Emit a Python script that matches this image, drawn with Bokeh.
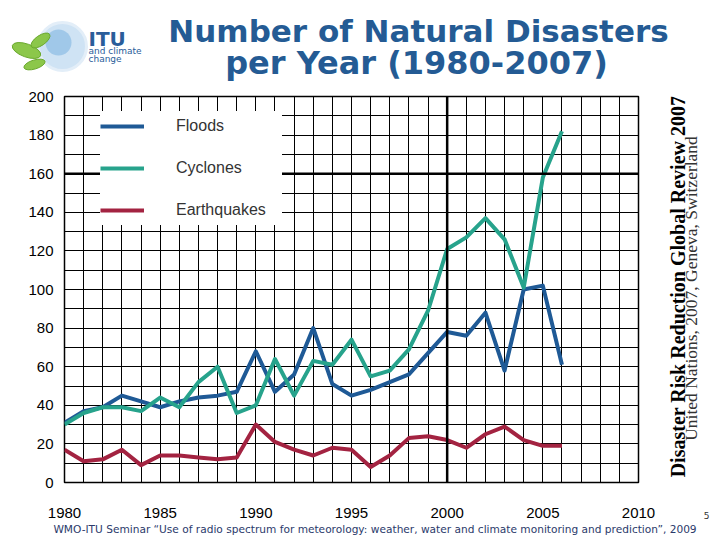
from math import pi
from bokeh.plotting import figure
from bokeh.layouts import column, row
from bokeh.models import (Range1d, SingleIntervalTicker, FixedTicker, Legend, LegendItem, Label,
                          Span, LinearAxis)
from bokeh.embed import file_html
from bokeh.resources import INLINE

years = list(range(1980, 2007))
floods = [31, 37, 39, 45, 42, 39, 42, 44, 45, 47, 68, 47, 56, 80, 51, 45, 48, 52,
          56, 67, 78, 76, 88, 58, 100, 102, 61]
cyclones = [30, 36, 39, 39, 37, 44, 39, 52, 60, 36, 40, 64, 45, 63, 61, 74, 55, 58,
            69, 89, 121, 127, 137, 126, 101, 158, 182]
earthquakes = [17, 11, 12, 17, 9, 14, 14, 13, 12, 13, 30, 21, 17, 14, 18, 17, 8, 14,
               23, 24, 22, 18, 25, 29, 22, 19, 19]
series_names = ["Floods", "Cyclones", "Earthquakes"]
series_colors = ["#1F5A96", "#27A38C", "#A32341"]
x_tick_labels = [1980, 1985, 1990, 1995, 2000, 2005, 2010]
y_tick_labels = list(range(0, 201, 20))

title_lines = ["Number of Natural Disasters", "per Year (1980-2007)"]
logo_lines = ["ITU", "and climate", "change"]
source_title = "Disaster Risk Reduction Global Review 2007"
source_sub = "United Nations, 2007, Geneva, Switzerland"
footer = "WMO-ITU Seminar \u201cUse of radio spectrum for meteorology: weather, water and climate monitoring and prediction\u201d, 2009"
page_no = "5"


def blank(w, h, xr=None, yr=None):
    """A figure without axes, in pixel-like coordinates (y grows downward)."""
    f = figure(width=w, height=h, output_backend="svg", toolbar_location=None, title=None,
               x_range=xr or Range1d(0, w), y_range=yr or Range1d(h, 0),
               x_axis_type=None, y_axis_type=None, min_border=0)
    f.outline_line_color = None
    f.grid.visible = False
    f.background_fill_color = "white"
    f.border_fill_color = "white"
    return f


# ---------- top: logo + title (88 px) ----------
top = blank(720, 88)
top.circle(x=[62], y=[46], radius=24, fill_color="#CFE3F4", line_color="#E3EEF8", line_width=3)
top.circle(x=[58], y=[42], radius=13, fill_color="#8CBCE4", line_color=None, fill_alpha=0.7)
top.ellipse(x=[26, 40, 34], y=[50, 40, 64], width=[30, 22, 22], height=[13, 10, 9],
            angle=[-0.35, 0.6, 0.3], fill_color="#86C440", line_color="#6AA82E", fill_alpha=0.95)
title_color = "#245B94"
top.add_layout(Label(x=418, y=30, text=title_lines[0], text_align="center", text_baseline="middle",
                     text_font="DejaVu Sans", text_font_style="bold", text_font_size="31px",
                     text_color=title_color))
top.add_layout(Label(x=416, y=62, text=title_lines[1], text_align="center", text_baseline="middle",
                     text_font="DejaVu Sans", text_font_style="bold", text_font_size="32px",
                     text_color=title_color))
top.add_layout(Label(x=88, y=38, text=logo_lines[0], text_align="left", text_baseline="middle",
                     text_font="DejaVu Sans", text_font_style="bold", text_font_size="20px",
                     text_color="#2A5D9A"))
top.add_layout(Label(x=88, y=50, text=logo_lines[1], text_align="left", text_baseline="middle",
                     text_font="DejaVu Sans", text_font_size="9px", text_color="#2A5D9A"))
top.add_layout(Label(x=88, y=58, text=logo_lines[2], text_align="left", text_baseline="middle",
                     text_font="DejaVu Sans", text_font_size="9px", text_color="#2A5D9A"))

# ---------- main chart (660 x 434) ----------
p = figure(width=660, height=434, output_backend="svg", toolbar_location=None, title=None,
           x_range=Range1d(1980, 2010), y_range=Range1d(0, 200),
           min_border_left=64, min_border_right=22, min_border_top=8, min_border_bottom=40)
p.background_fill_color = "white"
p.border_fill_color = "white"
p.outline_line_color = "black"
p.outline_line_width = 1.5

p.xaxis.ticker = x_tick_labels
p.yaxis.ticker = y_tick_labels
p.xgrid[0].ticker = SingleIntervalTicker(interval=1)
p.ygrid[0].ticker = SingleIntervalTicker(interval=10)
for g in (p.xgrid[0], p.ygrid[0]):
    g.grid_line_color = "black"
    g.grid_line_alpha = 1.0
    g.grid_line_width = 1

for ax in (p.xaxis[0], p.yaxis[0]):
    ax.axis_line_color = None
    ax.major_tick_line_color = None
    ax.minor_tick_line_color = None
    ax.major_label_text_font = "Liberation Sans"
    ax.major_label_text_font_size = "15px"
    ax.major_label_text_color = "black"
p.xaxis.major_label_standoff = 19
p.yaxis.major_label_standoff = 5

p.add_layout(Span(location=2000, dimension="height", line_color="black", line_width=2.5))
p.add_layout(Span(location=160, dimension="width", line_color="black", line_width=2.5))

renderers = []
for name, vals, col in zip(series_names, [floods, cyclones, earthquakes], series_colors):
    r = p.line(years, vals, line_color=col, line_width=4, line_join="round")
    renderers.append(r)

legend = Legend(items=[LegendItem(label=n, renderers=[r]) for n, r in zip(series_names, renderers)],
                location=(36, 257), orientation="vertical")
legend.background_fill_color = "white"
legend.background_fill_alpha = 1.0
legend.border_line_color = None
legend.padding = 10
legend.margin = 0
legend.glyph_width = 44
legend.glyph_height = 30
legend.spacing = 12
legend.label_standoff = 32
legend.label_width = 106
legend.label_text_font = "Liberation Sans"
legend.label_text_font_size = "16px"
legend.label_text_color = "#333333"
p.add_layout(legend)

# ---------- right strip (page x 660-720); its frame is aligned with the chart's (page y 96-482) ----------
right = blank(60, 434, xr=Range1d(660, 720), yr=Range1d(482, 96))
right.add_layout(Label(x=677, y=286, text=source_title, angle=pi / 2, text_align="center",
                       text_baseline="middle", text_font="Liberation Serif", text_font_style="bold",
                       text_font_size="20px", text_color="black"))
right.add_layout(Label(x=690, y=288, text=source_sub, angle=pi / 2, text_align="center",
                       text_baseline="middle", text_font="Liberation Serif",
                       text_font_size="17.5px", text_color="#333333"))
page_axis = LinearAxis(ticker=FixedTicker(ticks=[706]), major_label_overrides={706: page_no},
                       major_label_standoff=23, major_label_text_font="DejaVu Sans",
                       major_label_text_font_size="9px", major_label_text_color="#333333",
                       axis_line_color=None, major_tick_line_color=None, minor_tick_line_color=None)
right.add_layout(page_axis, "below")

# ---------- bottom: footer (720 x 18) ----------
bottom = blank(720, 18)
bottom.add_layout(Label(x=374.5, y=6, text=footer, text_align="center", text_baseline="middle",
                        text_font="DejaVu Sans", text_font_size="10.6px", text_color="#2B3A6B"))

layout = column(top, row(p, right, spacing=0), bottom, spacing=0)
open("out.html", "w").write(file_html(layout, INLINE))
